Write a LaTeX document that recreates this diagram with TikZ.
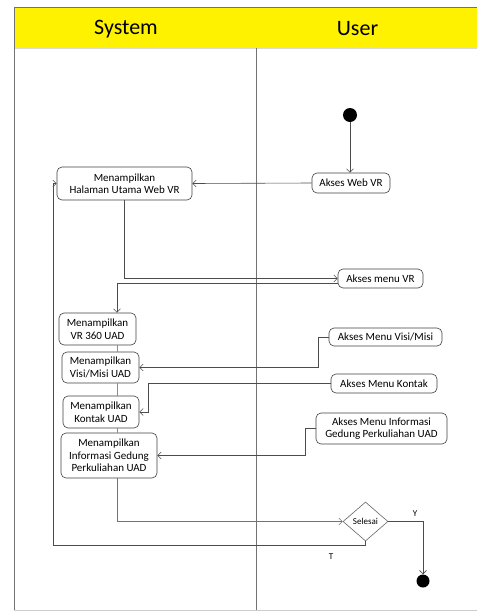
\documentclass[tikz,border=0pt]{standalone}
\usepackage{fontspec}
\setmainfont{Carlito}
\usetikzlibrary{arrows.meta,shapes.geometric}
\begin{document}
\begin{tikzpicture}[x=1pt,y=-1pt,
  act/.style={draw=black!75, line width=0.6pt, rounded corners=5pt, fill=white, align=center, inner sep=1pt,
    font=\fontsize{11}{12.5}\selectfont},
  flow/.style={draw=black!70, line width=0.6pt},
  arr/.style={flow, -{Straight Barb[length=3.5pt,width=7pt,line width=0.6pt]}},
  lane/.style={draw=black!55, line width=0.7pt},
  lbl/.style={font=\fontsize{9}{10}\selectfont, inner sep=0pt}]
\useasboundingbox (0,0) rectangle (477,611);
% swimlanes
\fill[yellow] (14,7) rectangle (477,48);
\draw[black!60!yellow, line width=1pt] (14,7) -- (477,7);
\draw[black!15, line width=0.6pt] (14,48.5) -- (477,48.5);
\draw[lane] (14,7) -- (14,610);
\draw[black!20, line width=0.8pt] (14,610) -- (477,610);
\draw[lane] (256,48) -- (256,610);
\node[font=\fontsize{22}{26}\selectfont] (hsys) at (126,29) {System};
\node[font=\fontsize{22}{26}\selectfont] (husr) at (357.5,29) {User};
% nodes
\node[circle, fill=black, minimum size=14pt, inner sep=0pt] (init) at (350,115) {};
\node[act, minimum width=78pt, minimum height=20pt] (webvr) at (351,183) {Akses Web VR};
\node[act, minimum width=135pt, minimum height=33pt] (hal) at (124.5,183.5) {Menampilkan\\Halaman Utama Web VR};
\node[act, minimum width=85pt, minimum height=19pt] (menuvr) at (380.5,278.5) {Akses menu VR};
\node[act, minimum width=77pt, minimum height=32pt] (vr360) at (97.5,329) {Menampilkan\\VR 360 UAD};
\node[act, minimum width=77pt, minimum height=31pt] (visi) at (100.5,367.5) {Menampilkan\\Visi/Misi UAD};
\node[act, minimum width=76pt, minimum height=32pt] (kontak) at (101,412) {Menampilkan\\Kontak UAD};
\node[act, minimum width=96pt, minimum height=45pt] (info) at (109,455.5) {Menampilkan\\Informasi Gedung\\Perkuliahan UAD};
\node[act, minimum width=113pt, minimum height=18pt] (amvisi) at (385.5,337) {Akses Menu Visi/Misi};
\node[act, minimum width=106pt, minimum height=19pt] (amkontak) at (384,383.5) {Akses Menu Kontak};
\node[act, minimum width=131pt, minimum height=31pt] (aminfo) at (381.5,428.5) {Akses Menu Informasi\\Gedung Perkuliahan UAD};
\node[diamond, draw=black!60, line width=0.6pt, fill=white, minimum width=45pt, minimum height=39pt, inner sep=0pt,
  font=\fontsize{9}{10}\selectfont] (dia) at (365.5,521.5) {Selesai};
\node[circle, fill=black, minimum size=13pt, inner sep=0pt] (final) at (423,581) {};
\coordinate (lx) at (117,0);
\coordinate (kc) at (148,0);
\coordinate (tc) at (53,545);
% connectors
\draw[arr] (init) -- (init |- webvr.north);
\draw[arr] (webvr.west) -- (hal.east);
\draw[arr] (hal.south) |- (menuvr.west);
\draw[arr] ([yshift=-5pt]menuvr.west) -| (vr360.north -| lx);
\draw[flow, draw=black!45] (vr360.south -| lx) -- (visi.north -| lx);
\draw[flow, draw=black!45] (visi.south -| lx) -- (kontak.north -| lx);
\draw[flow, draw=black!45] (kontak.south -| lx) -- (info.north -| lx);
\draw[arr, draw=black!55] (info.south -| lx) |- (dia.west);
\draw[arr] (dia.east) -| (final.north);
\draw[arr] (dia.south) |- (tc) |- (hal.west);
\draw[arr] (amvisi.west) -- ++(-10,0) |- (visi.east);
\draw[arr] (amkontak.west) -| (kc |- kontak.east) -- (kontak.east);
\draw[arr] (aminfo.west) -- ++(-10,0) |- (info.east);
\node[lbl] (ly) at (415,514) {Y};
\node[lbl] (lt) at (331,557) {T};
\end{tikzpicture}
\end{document}
